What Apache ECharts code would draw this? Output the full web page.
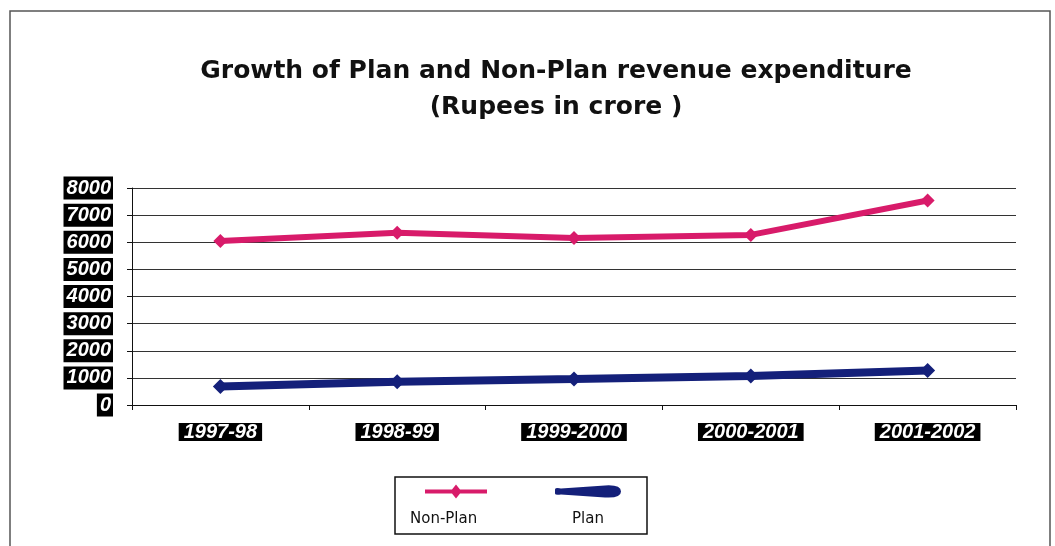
<!DOCTYPE html>
<html><head><meta charset="utf-8">
<script src="https://cdn.jsdelivr.net/npm/echarts@6/dist/echarts.min.js"></script>
<style>html,body{margin:0;padding:0;background:#fff}#c{width:1055px;height:546px}</style>
</head><body><div id="c"></div>
<script>
const categories = ['1997-98', '1998-99', '1999-2000', '2000-2001', '2001-2002'];
const nonPlan = [6050, 6350, 6160, 6270, 7540];
const plan = [680, 860, 960, 1070, 1270];
const yTicks = [0, 1000, 2000, 3000, 4000, 5000, 6000, 7000, 8000];

const chart = echarts.init(document.getElementById('c'));
const boxLabel = {
  color: '#fff', backgroundColor: '#000', fontStyle: 'italic', fontWeight: 'bold',
  fontFamily: 'Liberation Sans, Arial', fontSize: 20
};
chart.setOption({
  backgroundColor: '#fff',
  animation: false,
  title: {
    text: 'Growth of Plan and Non-Plan revenue expenditure\n(Rupees in crore )',
    left: 551, top: 48, textAlign: 'center',
    textStyle: { fontFamily: 'DejaVu Sans', fontWeight: 'bold', fontSize: 25, lineHeight: 36, color: '#111' }
  },
  graphic: [
    { type: 'rect', shape: { x: 10, y: 11, width: 1040, height: 545 }, style: { fill: 'none', stroke: '#555', lineWidth: 1.5 }, silent: true },
    { type: 'rect', shape: { x: 395, y: 477, width: 252, height: 57 }, style: { fill: '#fff', stroke: '#111', lineWidth: 1.5 }, z: -1, silent: true }
  ],
  legend: [
    { data: ['Non-Plan'], left: 405, top: 449, itemWidth: 62, itemHeight: 14, icon: 'path://M0,5 L27,5 L31,0 L35,5 L62,5 L62,9 L35,9 L31,14 L27,9 L0,9 Z',
      formatter: n => '\n\n\n' + n,
      textStyle: { fontFamily: 'DejaVu Sans', fontSize: 15, lineHeight: 18.7, color: '#111', padding: [0, 0, 0, -82] } },
    { data: ['Plan'], left: 550, top: 449, itemWidth: 66, itemHeight: 14, icon: 'path://M0,5 Q0,3 6,4 L50,1 Q66,0 66,7 Q66,14 50,13 L6,10 Q0,11 0,9 Z',
      formatter: n => '\n\n\n' + n,
      textStyle: { fontFamily: 'DejaVu Sans', fontSize: 15, lineHeight: 18.7, color: '#111', padding: [0, 0, 0, -54] } }
  ],
  grid: { left: 132, right: 39, top: 188, bottom: 141, containLabel: false },
  xAxis: {
    type: 'category', data: categories, boundaryGap: true,
    axisLine: { lineStyle: { color: '#111', width: 1 } },
    axisTick: { show: true, length: 5, lineStyle: { color: '#111' } },
    axisLabel: Object.assign({ margin: 18, lineHeight: 17, padding: [1, 5, 0, 5] }, boxLabel),
    splitLine: { show: false }
  },
  yAxis: {
    type: 'value', min: 0, max: 8000, interval: 1000,
    axisLine: { show: true, lineStyle: { color: '#111', width: 1 } },
    axisTick: { show: true, length: 5, lineStyle: { color: '#111' } },
    axisLabel: Object.assign({ margin: 19, lineHeight: 20, padding: [2, 2, 1, 3],
      formatter: v => yTicks.includes(v) ? String(v) : '' }, boxLabel),
    splitLine: { show: true, lineStyle: { color: '#333', width: 1.2 } }
  },
  series: [
    { name: 'Non-Plan', type: 'line', data: nonPlan, symbol: 'diamond', symbolSize: 14,
      lineStyle: { color: '#d81b6a', width: 6 }, itemStyle: { color: '#d81b6a' } },
    { name: 'Plan', type: 'line', data: plan, symbol: 'diamond', symbolSize: 15,
      lineStyle: { color: '#14207a', width: 8 }, itemStyle: { color: '#14207a' } }
  ]
});
</script></body></html>
